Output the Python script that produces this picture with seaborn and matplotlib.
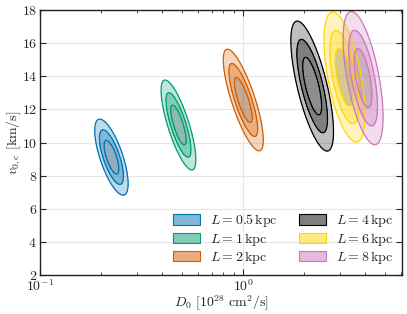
import numpy as np
import seaborn as sns
import matplotlib.pyplot as plt
from matplotlib.patches import Patch
from matplotlib.colors import to_rgb

# halo size and the fitted posterior (centre, widths, correlation)
L_kpc = ["0.5", "1", "2", "4", "6", "8"]
D0_centre = [0.225, 0.481, 1.003, 2.19, 3.16, 3.90]     # 1e28 cm^2/s
v0_centre = [9.12, 11.06, 12.57, 13.41, 13.95, 13.89]   # km/s
sig_logD = [0.0241, 0.0251, 0.0289, 0.0308, 0.0296, 0.0289]
sig_v0 = [0.673, 0.797, 0.90, 1.151, 1.151, 1.18]
rho = [-0.70, -0.77, -0.79, -0.70, -0.57, -0.585]

sns.set_style("ticks")
plt.rcParams["font.family"] = "serif"
plt.rcParams["font.serif"] = ["cmr10", "DejaVu Serif"]
plt.rcParams["mathtext.fontset"] = "cm"
plt.rcParams["axes.formatter.use_mathtext"] = True
plt.rcParams["axes.unicode_minus"] = False

cb = sns.color_palette("colorblind")
colors = [cb[0], cb[2], cb[3], (0, 0, 0), to_rgb("gold"), cb[4]]

fig = plt.figure(figsize=(4.07, 3.14), dpi=100)
ax = fig.add_axes([0.098, 0.124, 0.89, 0.844])

# grid in log10(D0), v0
u = np.linspace(-1, 0.8, 500)
v = np.linspace(2, 18, 500)
U, V = np.meshgrid(u, v)
X = 10 ** U

# 68 / 95 / 99.7 % regions of a 2d gaussian
levels = [0, 2.279, 5.991, 11.62]

for i in range(len(L_kpc)):
    dx = (U - np.log10(D0_centre[i])) / sig_logD[i]
    dy = (V - v0_centre[i]) / sig_v0[i]
    d2 = (dx**2 - 2 * rho[i] * dx * dy + dy**2) / (1 - rho[i] ** 2)
    c = np.array(colors[i])
    dark = c * 0.55 + 0.12
    fills = [(*dark, 0.5), (*c, 0.5), (*c, 0.25)]
    ax.contourf(X, V, d2, levels=levels, colors=fills)
    ax.contour(X, V, d2, levels=levels[1:], colors=[c], linewidths=0.9)

ax.set_xscale("log")
ax.set_xlim(0.1, 6.07)
ax.set_ylim(2, 18)
ax.set_yticks(range(2, 19, 2))
ax.grid(True, color="#e6e6e6", linewidth=0.8)
ax.set_axisbelow(True)
ax.tick_params(which="both", direction="in", top=True, right=True, labelsize=10, pad=2)
ax.tick_params(which="major", length=4)
ax.tick_params(which="minor", length=2)
for s in ax.spines.values():
    s.set_linewidth(1.0)
    s.set_color("#222222")

ax.set_xlabel(r"$D_0\ [10^{28}\ \mathrm{cm}^2/\mathrm{s}]$", fontsize=10, labelpad=0)
ax.set_ylabel(r"$v_{0,\mathrm{c}}\ [\mathrm{km/s}]$", fontsize=10, labelpad=-1)

handles = [Patch(facecolor=(*colors[i], 0.5), edgecolor=colors[i], linewidth=0.8,
                 label=r"$L = %s\,\mathrm{kpc}$" % L_kpc[i]) for i in range(len(L_kpc))]
ax.legend(handles=handles, ncol=2, loc="lower right", bbox_to_anchor=(1.0, 0.0),
          frameon=False, fontsize=10, handlelength=2.0, handleheight=0.75,
          handletextpad=0.7, columnspacing=1.5, labelspacing=0.1, borderaxespad=0.25)

fig.savefig("out.png", dpi=100)
